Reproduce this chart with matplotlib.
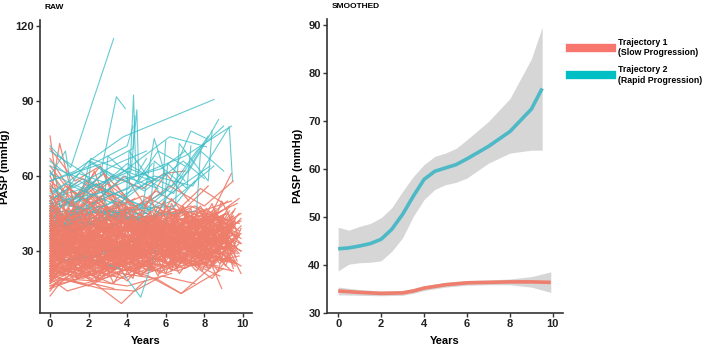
import matplotlib.pyplot as plt
from matplotlib.lines import Line2D

plt.rcParams['font.family'] = ['Liberation Sans', 'DejaVu Sans']
plt.rcParams['font.weight'] = 'bold'

RED = '#F8766D'
BLUE = '#00BFC4'

# RAW panel: trajectories for Trajectory 1 (slow), (years, PASP)
red_traj = [
    ([0, 1.1, 2.3, 3.6, 5.0, 6.4, 8.1, 9.6], [34, 29, 37, 31, 40, 33, 38, 30]),
    ([0, 0.9, 2.0, 4.2, 6.1, 7.9, 9.3], [26, 31, 24, 29, 35, 27, 33]),
    ([0, 1.5, 3.0, 4.8, 6.9, 8.8], [41, 36, 44, 38, 33, 42]),
    ([0, 0.7, 1.9, 3.3, 5.5, 7.2, 9.8], [22, 27, 20, 25, 30, 24, 28]),
    ([0, 1.2, 2.7, 4.1, 5.9, 8.0, 9.9], [38, 45, 33, 40, 36, 43, 35]),
    ([0, 0.5, 1.6, 3.8], [76, 48, 42, 37]),
    ([0.1, 0.5, 1.4, 2.9], [55, 73, 44, 39]),
    ([0, 1.0, 2.5, 4.0, 5.7], [30, 25, 33, 28, 36]),
    ([0, 2.1, 3.5, 5.2, 7.0, 8.6], [19, 24, 21, 27, 23, 30]),
    ([0, 0.8, 2.2, 3.1, 4.6, 6.6, 8.3, 9.5], [45, 39, 50, 42, 47, 38, 44, 40]),
    ([0, 1.3, 2.6, 4.4, 6.2, 7.7], [28, 34, 26, 31, 25, 32]),
    ([0, 0.6, 1.8, 3.4, 5.3, 7.4, 9.1], [36, 31, 39, 34, 29, 37, 45]),
    ([0, 1.9, 3.9, 5.8, 7.6, 9.7], [24, 20, 26, 22, 28, 25]),
    ([0, 1.1, 2.4, 3.7], [62, 50, 57, 46]),
    ([0, 1.4, 2.9, 4.7, 6.3, 8.2], [33, 38, 30, 35, 41, 34]),
    ([0, 0.4, 1.7, 3.2, 5.1, 6.8, 8.7], [17, 22, 19, 24, 20, 13, 26]),
    ([0, 1.6, 3.3, 5.4, 7.1, 9.0], [40, 34, 45, 37, 42, 36]),
    ([0, 0.9, 2.0, 3.0, 4.3], [27, 32, 23, 29, 25]),
    ([0, 1.2, 3.6, 5.6, 7.8, 9.4], [31, 26, 34, 29, 36, 61]),
    ([0, 0.7, 2.2, 4.0, 6.0, 7.5, 9.2], [48, 42, 53, 40, 46, 39, 50]),
    ([0, 1.8, 3.7, 4.9], [15, 20, 9, 18]),
    ([0, 1.0, 2.6, 4.5, 6.5, 8.4, 9.9], [35, 30, 38, 33, 27, 31, 24]),
    ([0, 0.5, 1.5, 2.8, 4.2, 5.9], [21, 26, 23, 28, 22, 27]),
    ([0, 1.3, 2.5, 3.9, 5.5, 7.3, 8.9], [43, 37, 48, 41, 35, 44, 15]),
    ([0, 2.0, 4.1, 6.2, 8.0, 9.6], [29, 35, 31, 38, 33, 40]),
    ([0, 0.8, 1.9, 3.2, 4.8, 6.7], [52, 46, 58, 44, 49, 41]),
    ([0, 1.5, 3.1, 4.6, 6.4, 8.5], [25, 21, 28, 24, 30, 26]),
    ([0, 1.1, 2.3, 3.5, 5.0, 6.6, 8.0, 9.8], [37, 42, 35, 39, 44, 37, 41, 51]),
    ([0, 0.6, 2.1, 3.8, 5.7], [12, 18, 22, 19, 25]),
    ([0, 1.7, 3.4, 5.3, 7.0, 8.8], [39, 33, 42, 36, 31, 38]),
    ([0, 0.9, 2.4, 3.6, 5.2, 6.9, 8.6, 9.5], [23, 28, 25, 31, 27, 33, 29, 34]),
    ([0, 1.2, 2.8, 4.4], [58, 51, 61, 48]),
    ([0, 1.4, 2.7, 4.3, 6.1, 7.9], [32, 27, 35, 30, 37, 31]),
    ([0, 0.5, 1.9, 3.3, 4.9, 6.8, 8.3], [44, 38, 47, 41, 36, 43, 38]),
    ([0, 2.2, 4.0, 5.8, 7.6, 9.3], [20, 25, 22, 28, 24, 31]),
    ([0, 1.0, 2.1, 3.4, 5.0], [67, 55, 49, 53, 45]),
    ([0, 1.3, 2.9, 4.5, 6.3, 8.1, 9.7], [30, 35, 28, 33, 39, 32, 37]),
    ([0, 0.7, 1.6, 3.0, 4.7, 6.5], [26, 22, 29, 24, 30, 27]),
    ([0, 1.8, 3.5, 5.4, 7.2, 9.1], [41, 46, 39, 43, 37, 45]),
    ([0, 0.6, 1.4, 2.5, 3.9, 5.6, 7.4, 9.0], [34, 29, 37, 32, 28, 35, 30, 36]),
    ([0, 1.1, 2.7, 4.2, 6.0, 7.7], [18, 23, 20, 26, 21, 27]),
    ([0, 0.8, 2.0, 3.1, 4.4], [49, 43, 55, 46, 51]),
    ([0, 1.5, 3.2, 4.9, 6.7, 8.4, 9.9], [28, 33, 30, 36, 31, 38, 33]),
    ([0, 0.4, 1.3, 2.6, 4.0, 5.5, 7.1], [38, 33, 41, 36, 43, 37, 32]),
    ([0, 2.0, 3.8, 5.7, 7.5, 9.4], [24, 29, 26, 32, 27, 33]),
    ([0, 0.9, 2.2, 3.6, 5.1, 6.8, 8.5], [45, 40, 36, 42, 38, 45, 40]),
    ([0, 1.2, 2.4, 3.7, 4.8], [16, 21, 18, 24, 20]),
    ([0, 1.6, 3.0, 4.6, 6.2, 8.0, 9.6], [35, 31, 38, 34, 40, 35, 42]),
    ([0, 0.7, 1.8, 3.3, 5.0, 6.9], [29, 34, 27, 32, 26, 31]),
    ([0, 1.4, 2.8, 4.3, 6.4, 8.2, 9.8], [42, 37, 45, 39, 47, 41, 36]),
    ([0, 1.0, 2.5, 3.9, 5.3], [22, 27, 19, 25, 29]),
    ([0, 0.5, 1.7, 3.5, 5.2, 7.0, 8.7], [31, 36, 33, 29, 35, 40, 34]),
    ([0, 1.3, 2.6, 3.4], [71, 58, 64, 52]),
    ([0, 1.9, 3.6, 5.6, 7.3, 9.2], [27, 32, 28, 34, 30, 26]),
    ([0, 0.8, 2.3, 4.1, 5.9, 7.8, 9.5], [37, 32, 40, 35, 42, 36, 44]),
    ([0, 1.1, 2.0, 3.2, 4.5, 6.1], [19, 24, 21, 17, 23, 28]),
    ([0, 1.7, 3.4, 5.1, 6.9, 8.6], [46, 41, 49, 43, 38, 47]),
    ([0, 0.6, 1.5, 2.9, 4.4, 6.3, 8.1, 9.9], [33, 28, 36, 31, 37, 33, 39, 30]),
    ([0, 1.2, 2.7, 4.0, 5.8], [25, 30, 23, 28, 33]),
    ([0, 0.9, 2.4, 3.8, 5.4, 7.2, 8.9], [40, 35, 43, 37, 32, 39, 46]),
    ([0, 1.5, 3.1, 4.7, 6.6, 8.3], [23, 19, 26, 21, 27, 23]),
    ([0, 0.7, 2.1, 3.6, 5.5, 7.5, 9.3], [50, 44, 39, 46, 41, 48, 42]),
    ([0, 1.0, 2.3, 3.0], [36, 41, 62, 47]),
    ([0, 1.3, 2.9, 4.6, 6.2, 7.9, 9.7], [30, 26, 33, 28, 35, 29, 25]),
    ([0, 0.5, 1.6, 2.8, 4.3, 5.9, 7.7], [35, 40, 34, 38, 44, 38, 43]),
    ([0, 1.8, 3.7, 5.4, 7.1, 8.8], [21, 26, 24, 30, 26, 20]),
    ([0, 1.1, 2.5, 4.1, 5.7, 7.4, 9.0], [43, 38, 46, 40, 36, 42, 37]),
    ([0, 0.8, 1.9, 3.3, 4.9], [28, 24, 31, 27, 34]),
    ([0, 1.4, 3.0, 4.8, 6.5, 8.4, 9.9], [38, 34, 41, 36, 43, 38, 45]),
    ([0, 0.6, 1.7, 3.2, 4.6, 6.4, 8.2], [26, 31, 28, 33, 29, 35, 31]),
    ([0, 2.1, 3.9, 5.8, 7.6, 9.4], [33, 37, 31, 39, 34, 41]),
    ([0, 0.9, 2.2, 3.5, 5.3, 7.0], [47, 42, 52, 45, 40, 47]),
    ([0, 1.2, 2.6, 4.2, 6.0, 7.8, 9.6], [20, 25, 22, 27, 24, 29, 26]),
    ([0, 0.4, 1.5, 2.7, 3.9], [60, 53, 47, 55, 49]),
    ([0, 1.6, 3.3, 5.0, 6.8, 8.6], [31, 27, 34, 30, 36, 32]),
    ([0, 1.0, 2.4, 3.7, 5.6, 7.3, 9.1], [36, 41, 33, 38, 43, 37, 33]),
    ([0, 0.7, 1.8, 3.1, 4.5, 6.2], [24, 20, 27, 23, 29, 25]),
    ([0, 1.3, 2.8, 4.4, 6.3, 8.0, 9.8], [41, 46, 38, 44, 39, 45, 41]),
    ([0, 0.5, 2.0, 3.6, 5.4], [14, 19, 16, 22, 25]),
    ([0, 1.7, 3.5, 5.2, 7.0, 8.7], [29, 34, 31, 37, 32, 38]),
    ([0, 0.8, 2.3, 3.8, 5.5, 7.2, 9.0], [39, 34, 42, 36, 31, 38, 34]),
    ([0, 1.1, 2.6, 4.0], [54, 48, 57, 43]),
    ([0, 1.5, 3.2, 5.1, 6.9, 8.5, 9.9], [26, 31, 28, 34, 29, 36, 30]),
    ([0, 0.6, 1.8, 3.4, 5.0, 6.7, 8.4], [33, 38, 35, 40, 36, 31, 37]),
    ([0, 1.9, 3.7, 5.6, 7.4, 9.2], [22, 27, 24, 30, 25, 32]),
    ([0, 0.9, 2.1, 3.3, 4.8, 6.5], [45, 50, 43, 48, 42, 46]),
    ([0, 1.2, 2.7, 4.3, 6.1, 7.9, 9.5], [30, 25, 32, 27, 33, 28, 35]),
    ([0, 0.5, 1.4, 2.9, 4.1], [37, 32, 40, 35, 31]),
    ([0, 1.4, 3.0, 4.7, 6.6, 8.3, 9.7], [43, 39, 47, 42, 38, 44, 49]),
    ([0, 1.0, 2.2, 3.6, 5.3, 7.1], [18, 23, 20, 26, 22, 28]),
    ([0, 0.7, 2.0, 3.8, 5.7, 7.6, 9.4], [35, 30, 37, 33, 39, 34, 40]),
    ([0, 1.6, 3.4, 5.2, 7.0, 8.9], [27, 32, 29, 35, 31, 37]),
    ([0, 0.8, 1.7, 3.0, 4.6], [64, 56, 50, 57, 47]),
    ([0, 1.1, 2.5, 4.0, 5.9, 7.7, 9.3], [32, 37, 30, 34, 40, 35, 31]),
    ([0, 0.6, 1.9, 3.5, 5.1, 6.9, 8.7], [24, 29, 26, 31, 27, 34, 29]),
    ([0, 1.8, 3.6, 5.5, 7.3, 9.0], [40, 45, 38, 43, 48, 42]),
    ([0, 0.9, 2.3, 3.7, 5.4], [29, 25, 32, 28, 23]),
    ([0, 1.3, 2.8, 4.5, 6.4, 8.1, 9.9], [36, 31, 39, 34, 29, 36, 42]),
    ([0, 0.5, 1.6, 3.1, 4.8, 6.6, 8.4], [21, 17, 24, 20, 26, 22, 28]),
    ([0, 2.0, 3.9, 5.7, 7.5, 9.6], [44, 39, 47, 41, 46, 39]),
    ([0, 1.0, 2.4, 3.9, 5.6, 7.4, 9.1], [33, 28, 36, 31, 38, 33, 29]),
    ([0, 0.7, 1.7, 2.9, 4.4, 6.0], [26, 31, 28, 34, 30, 36]),
    ([0, 1.5, 3.1, 4.9, 6.8, 8.6], [38, 34, 41, 37, 43, 38]),
    ([0, 0.8, 2.1, 3.4, 5.2, 7.0, 8.8], [48, 43, 51, 45, 40, 46, 41]),
    ([0, 1.2, 2.6, 4.1, 5.8, 7.7, 9.5], [23, 27, 21, 26, 31, 25, 22]),
    ([0, 0.6, 1.4, 2.5, 3.8], [41, 36, 44, 39, 35]),
    ([0, 1.7, 3.5, 5.3, 7.1, 8.9], [30, 35, 32, 38, 33, 27]),
    ([0, 0.9, 2.3, 3.9, 5.5, 7.3, 9.2], [35, 40, 34, 38, 44, 39, 45]),
    ([0, 1.1, 2.2, 3.6, 5.0, 6.7], [17, 22, 19, 25, 21, 26]),
    ([0, 1.4, 2.9, 4.6, 6.5, 8.2, 9.8], [42, 38, 45, 40, 35, 42, 37]),
    ([0, 0.5, 1.8, 3.2, 4.7, 6.3, 8.0], [28, 33, 30, 26, 32, 37, 32]),
    ([0, 1.9, 3.8, 5.6, 7.4, 9.3], [34, 29, 36, 31, 37, 33]),
    ([0, 0.8, 1.9, 3.1], [57, 49, 54, 44]),
    ([0, 1.3, 2.7, 4.3, 6.2, 8.0, 9.7], [25, 30, 27, 32, 28, 34, 29]),
    ([0, 0.7, 2.0, 3.5, 5.3, 7.1, 8.9], [39, 35, 42, 37, 33, 40, 44]),
    ([0, 1.6, 3.3, 5.0, 6.8, 8.5], [20, 25, 23, 28, 24, 30]),
    ([0, 1.0, 2.5, 3.9, 5.7, 7.5, 9.4], [46, 41, 48, 43, 38, 45, 50]),
    ([0, 0.4, 1.5, 3.0, 4.5], [31, 36, 33, 29, 35]),
    ([0, 1.2, 2.8, 4.4, 6.0, 7.8, 9.6], [37, 32, 40, 35, 41, 36, 32]),
    ([0, 0.9, 2.1, 3.4, 5.1, 6.9, 8.7], [27, 22, 30, 25, 31, 27, 24]),
    ([0, 1.5, 3.2, 4.8, 5.9, 7.0], [52, 47, 60, 55, 61, 62]),
    ([0, 0.9, 2.2, 3.3], [19, 14, 17, 15]),
    ([0, 1.1, 2.6, 4.4, 5.8, 7.5], [16, 18, 15, 14, 20, 17]),
    ([0, 1.8, 3.7, 5.5, 6.8, 8.1, 9.0], [20, 17, 21, 19, 13, 19, 23]),
    ([0, 0.6, 2.3, 4.0, 6.3], [15, 19, 18, 16, 21]),
    ([0, 1.4, 2.6, 3.5, 5.0], [44, 52, 64, 48, 41]),
    ([0, 2.0, 3.4, 4.6, 6.0, 7.2], [38, 47, 57, 44, 61, 50]),
    ([0, 1.0, 2.2, 3.9, 5.2], [46, 55, 49, 60, 45]),
    ([0, 3.0, 4.5, 6.2, 8.0, 9.5], [40, 51, 46, 56, 48, 58]),
    ([0, 1.7, 3.0, 4.1], [50, 59, 53, 47]),
    ([0, 4.0, 5.5, 7.0, 8.2], [35, 45, 54, 47, 56]),
    ([0, 0.8, 2.7, 4.8, 6.6], [47, 56, 45, 52, 46]),
    ([0, 5.0, 6.3, 7.8, 9.0], [33, 50, 44, 55, 49]),
]

# patients with many visits (drawn after Trajectory 2)
red_traj_dense = [
    ([0, 0.5, 1.2, 2.1, 2.8, 3.7, 4.5, 5.4, 6.3, 7.1, 8.0, 8.9, 9.7], [31, 47, 25, 38, 20, 44, 29, 35, 22, 46, 30, 41, 26]),
    ([0, 0.8, 1.5, 2.4, 3.3, 4.0, 4.9, 5.8, 6.6, 7.5, 8.4, 9.3], [43, 24, 37, 18, 33, 48, 27, 40, 23, 36, 49, 28]),
    ([0, 0.4, 1.1, 1.9, 2.7, 3.5, 4.4, 5.2, 6.1, 7.0, 7.8, 8.7, 9.6], [22, 36, 50, 29, 41, 24, 37, 52, 31, 25, 43, 34, 47]),
    ([0, 0.7, 1.6, 2.3, 3.1, 4.1, 5.0, 5.9, 6.8, 7.7, 8.6, 9.5], [39, 27, 46, 33, 21, 35, 44, 26, 38, 29, 45, 23]),
    ([0, 0.9, 1.7, 2.6, 3.4, 4.3, 5.1, 6.0, 6.9, 7.8, 8.8, 9.8], [18, 32, 24, 45, 28, 19, 41, 33, 48, 27, 36, 42]),
    ([0, 0.3, 1.0, 1.8, 2.5, 3.2, 4.0, 4.8, 5.7, 6.5, 7.4, 8.3, 9.2], [48, 35, 56, 30, 43, 26, 51, 34, 39, 24, 43, 32, 38]),
    ([0, 0.6, 1.4, 2.2, 3.0, 3.9, 4.7, 5.6, 6.4, 7.3, 8.1, 9.0, 9.9], [26, 40, 19, 30, 45, 23, 33, 20, 37, 47, 25, 35, 21]),
    ([0, 0.8, 1.7, 2.5, 3.6, 4.4, 5.3, 6.2, 7.0, 7.9, 8.7, 9.6], [35, 22, 41, 27, 50, 38, 29, 45, 31, 22, 40, 33]),
    ([0, 0.5, 1.3, 2.0, 2.9, 3.8, 4.6, 5.5, 6.3, 7.2, 8.1, 9.0], [41, 53, 33, 47, 36, 28, 42, 31, 49, 37, 27, 44]),
    ([0, 0.7, 1.5, 2.4, 3.2, 4.1, 4.9, 5.8, 6.7, 7.6, 8.5, 9.4], [20, 29, 37, 21, 33, 42, 25, 36, 28, 43, 30, 38]),
    ([0, 0.4, 1.2, 2.1, 2.9, 3.7, 4.6, 5.4, 6.3, 7.1, 8.0, 8.9, 9.8], [37, 30, 44, 25, 39, 34, 22, 43, 29, 37, 46, 26, 33]),
    ([0, 0.9, 1.8, 2.6, 3.5, 4.3, 5.2, 6.1, 6.9, 7.8, 8.7, 9.5], [24, 42, 31, 48, 27, 36, 46, 24, 39, 32, 22, 41]),
    ([0, 0.6, 1.4, 2.3, 3.1, 4.0, 4.8, 5.7, 6.6, 7.4, 8.3, 9.2], [52, 38, 29, 43, 35, 47, 30, 39, 26, 44, 35, 29]),
    ([0, 0.5, 1.1, 1.9, 2.8, 3.6, 4.5, 5.3, 6.2, 7.0, 7.9, 8.8, 9.7], [29, 21, 35, 40, 24, 31, 48, 36, 23, 34, 41, 28, 37]),
    ([0, 0.8, 1.6, 2.5, 3.3, 4.2, 5.1, 5.9, 6.8, 7.7, 8.6, 9.5], [33, 46, 39, 26, 41, 29, 37, 50, 34, 25, 38, 46]),
    ([0, 0.3, 1.0, 1.7, 2.6, 3.4, 4.2, 5.1, 6.0, 6.8, 7.7, 8.5, 9.4], [45, 27, 38, 23, 34, 45, 32, 26, 41, 35, 27, 45, 30]),
    ([0, 0.7, 1.5, 2.2, 3.0, 3.9, 4.7, 5.6, 6.5, 7.3, 8.2, 9.1, 9.9], [23, 31, 26, 42, 30, 20, 35, 28, 45, 29, 36, 24, 39]),
    ([0, 0.9, 1.8, 2.7, 3.5, 4.4, 5.3, 6.2, 7.1, 8.0, 8.9, 9.7], [38, 31, 47, 35, 24, 40, 46, 32, 38, 30, 43, 35]),
    ([0, 0.5, 1.3, 2.2, 3.0, 3.8, 4.7, 5.5, 6.4, 7.2, 8.1, 9.0, 9.8], [27, 43, 34, 20, 38, 46, 27, 35, 42, 31, 24, 37, 45]),
    ([0, 0.6, 1.4, 2.3, 3.2, 4.0, 4.9, 5.8, 6.7, 7.5, 8.4, 9.3], [56, 41, 49, 36, 44, 32, 39, 46, 30, 41, 36, 48]),
    ([0, 0.4, 1.1, 1.9, 2.7, 3.6, 4.4, 5.3, 6.1, 7.0, 7.9, 8.8, 9.6], [21, 34, 27, 36, 23, 30, 39, 22, 32, 27, 39, 30, 24]),
    ([0, 0.8, 1.7, 2.5, 3.4, 4.3, 5.1, 6.0, 6.9, 7.7, 8.6, 9.5], [42, 35, 28, 46, 37, 25, 44, 38, 29, 47, 33, 40]),
    ([0, 0.5, 1.2, 2.0, 2.9, 3.7, 4.6, 5.4, 6.3, 7.1, 8.0, 8.9, 9.8], [34, 25, 42, 31, 48, 27, 34, 45, 25, 38, 31, 50, 36]),
    ([0, 0.7, 1.6, 2.4, 3.3, 4.1, 5.0, 5.9, 6.7, 7.6, 8.5, 9.4], [19, 27, 22, 32, 17, 28, 24, 33, 21, 30, 25, 34]),
    ([0, 0.3, 1.0, 1.8, 2.6, 3.5, 4.3, 5.2, 6.0, 6.9, 7.8, 8.7, 9.6], [39, 47, 32, 41, 52, 35, 43, 30, 48, 39, 32, 42, 28]),
    ([0, 0.9, 1.7, 2.6, 3.4, 4.2, 5.1, 6.0, 6.8, 7.7, 8.6, 9.4], [30, 38, 21, 35, 29, 43, 33, 21, 38, 28, 46, 31]),
    ([0, 0.6, 1.4, 2.1, 3.0, 3.8, 4.7, 5.6, 6.4, 7.3, 8.2, 9.1, 9.9], [46, 32, 39, 29, 36, 25, 38, 44, 33, 41, 30, 37, 43]),
    ([0, 0.4, 1.2, 2.0, 2.8, 3.7, 4.5, 5.4, 6.2, 7.1, 8.0, 8.8, 9.7], [25, 33, 41, 26, 32, 39, 21, 30, 37, 24, 34, 28, 36]),
    ([0, 0.8, 1.6, 2.5, 3.3, 4.2, 5.0, 5.9, 6.8, 7.6, 8.5, 9.3], [36, 28, 33, 24, 44, 30, 37, 27, 35, 45, 26, 39]),
    ([0, 0.5, 1.3, 2.2, 3.0, 3.9, 4.8, 5.6, 6.5, 7.4, 8.2, 9.1, 9.9], [50, 41, 34, 45, 28, 40, 34, 48, 37, 29, 42, 34, 40]),
    ([0, 0.7, 1.5, 2.3, 3.2, 4.0, 4.9, 5.7, 6.6, 7.5, 8.4, 9.2], [17, 24, 19, 28, 23, 18, 26, 21, 29, 24, 19, 27]),
    ([0, 0.4, 1.1, 1.9, 2.8, 3.6, 4.5, 5.3, 6.2, 7.0, 7.9, 8.8, 9.6], [32, 39, 26, 34, 40, 31, 28, 41, 35, 28, 36, 31, 43]),
    ([0, 0.9, 1.8, 2.7, 3.5, 4.4, 5.3, 6.1, 7.0, 7.9, 8.8, 9.7], [40, 32, 44, 38, 29, 37, 42, 30, 44, 36, 41, 31]),
    ([0, 0.6, 1.4, 2.2, 3.1, 3.9, 4.8, 5.7, 6.5, 7.4, 8.3, 9.2], [28, 36, 30, 23, 34, 27, 39, 32, 25, 33, 40, 28]),
    ([0, 0.3, 1.0, 1.8, 2.6, 3.4, 4.3, 5.1, 6.0, 6.8, 7.7, 8.6, 9.5], [44, 38, 47, 34, 40, 49, 36, 42, 33, 47, 38, 29, 42]),
    ([0, 0.7, 1.5, 2.4, 3.2, 4.1, 5.0, 5.8, 6.7, 7.6, 8.4, 9.3], [23, 29, 35, 27, 21, 33, 28, 37, 29, 22, 32, 27]),
    ([0, 0.5, 1.3, 2.1, 3.0, 3.8, 4.6, 5.5, 6.3, 7.2, 8.1, 9.0, 9.8], [35, 42, 29, 37, 31, 42, 33, 27, 39, 31, 45, 36, 29]),
    ([0, 0.8, 1.7, 2.5, 3.4, 4.2, 5.1, 6.0, 6.9, 7.8, 8.7, 9.6], [26, 20, 31, 24, 30, 36, 24, 32, 38, 26, 34, 25]),
    ([0, 0.4, 1.2, 2.0, 2.9, 3.7, 4.6, 5.5, 6.3, 7.2, 8.0, 8.9, 9.8], [47, 36, 43, 50, 39, 45, 35, 40, 51, 42, 34, 44, 38]),
    ([0, 0.6, 1.4, 2.3, 3.1, 4.0, 4.8, 5.7, 6.6, 7.4, 8.3, 9.2], [31, 26, 37, 32, 40, 27, 36, 30, 42, 34, 27, 36]),
    ([0, 0.9, 1.6, 2.4, 3.3, 4.1, 5.0, 5.9, 6.8, 7.6, 8.5, 9.4], [21, 30, 25, 19, 27, 31, 22, 29, 25, 34, 29, 22]),
    ([0, 0.5, 1.1, 1.9, 2.7, 3.5, 4.4, 5.2, 6.1, 7.0, 7.8, 8.7, 9.5], [38, 44, 33, 40, 27, 36, 43, 37, 28, 39, 46, 33, 39]),
    ([0, 0.7, 1.5, 2.2, 3.1, 3.9, 4.8, 5.6, 6.5, 7.3, 8.2, 9.1, 9.9], [29, 35, 22, 30, 36, 24, 31, 39, 29, 35, 23, 31, 37]),
    ([0, 0.3, 1.0, 1.8, 2.6, 3.5, 4.3, 5.2, 6.0, 6.9, 7.8, 8.6, 9.5], [41, 33, 38, 45, 30, 42, 35, 44, 33, 41, 48, 37, 44]),
    ([0, 0.8, 1.7, 2.5, 3.4, 4.3, 5.1, 6.0, 6.8, 7.7, 8.6, 9.4], [24, 32, 27, 35, 25, 33, 40, 26, 34, 28, 38, 30]),
    ([0, 0.6, 1.3, 2.1, 2.9, 3.8, 4.6, 5.5, 6.4, 7.2, 8.1, 9.0, 9.9], [55, 44, 37, 49, 42, 34, 45, 36, 41, 32, 47, 40, 33]),
    ([0, 0.4, 1.2, 2.0, 2.8, 3.6, 4.5, 5.3, 6.2, 7.1, 7.9, 8.8, 9.6], [33, 27, 31, 24, 35, 29, 26, 33, 28, 37, 33, 25, 30]),
    ([0, 0.9, 1.8, 2.6, 3.5, 4.3, 5.2, 6.1, 6.9, 7.8, 8.7, 9.5], [37, 45, 35, 41, 48, 36, 44, 39, 47, 40, 35, 43]),
    ([0, 0.5, 1.3, 2.2, 3.0, 3.9, 4.7, 5.6, 6.5, 7.3, 8.2, 9.1], [20, 25, 18, 27, 22, 26, 20, 27, 23, 29, 24, 29]),
    ([0, 0.7, 1.6, 2.4, 3.3, 4.1, 5.0, 5.8, 6.7, 7.6, 8.5, 9.3], [46, 38, 43, 35, 39, 31, 42, 35, 30, 41, 36, 46]),
]

# RAW panel: trajectories for Trajectory 2 (rapid)
blue_traj = [
    ([0, 1.07, 3.3], [72, 63.4, 115]),
    ([0, 1.2, 2.6, 3.44, 3.9], [55, 48, 60, 91.7, 87]),
    ([0, 1.5, 3.0, 4.1, 4.33, 4.45, 5.0], [50, 58, 52, 55, 92.4, 60, 67]),
    ([0, 1.3, 3.8, 8.5], [58, 62, 75.7, 90.6]),
    ([0, 2.0, 4.2, 4.5, 4.6, 5.3], [47, 55, 62, 86.5, 58, 65]),
    ([0, 1.5, 3.0, 6.2, 8.1], [52, 61, 57, 75.7, 71.7]),
    ([0, 2.2, 5.4, 7.4, 9.29, 9.46], [43, 49, 60, 56, 79.7, 58.3]),
    ([0, 3.0, 5.0, 7.2, 8.74], [49, 54, 47, 62, 82.6]),
    ([0, 0.8, 1.1, 3.5, 5.0], [60, 70, 55, 65, 70]),
    ([0, 1.8, 4.0, 6.0, 7.3, 8.1], [40, 47, 45, 54, 78, 75]),
    ([0, 2.5, 4.8, 5.4, 6.0], [64, 56, 48, 75, 60]),
    ([0, 1.0, 2.0, 4.0, 4.3], [66, 60, 64, 72, 80]),
    ([0, 2.0, 3.6, 4.7, 6.1, 7.5], [35, 27, 23, 11.5, 45, 58]),
    ([0, 0.5, 2.4, 4.6, 6.0], [33, 26, 28, 35, 50]),
    ([0, 1.2, 3.3, 5.2, 6.8, 8.2], [42, 38, 45, 41, 60, 76]),
    ([0, 2.6, 4.1, 6.3, 7.6, 9.0], [51, 57, 63, 56, 70, 80]),
    ([0, 0.7, 2.0, 3.5, 5.8, 7.0], [62, 53, 66, 58, 63, 70]),
    ([0, 1.6, 2.5, 4.0, 5.5], [70, 62, 55, 65, 58]),
    ([0, 0.3, 1.9, 3.8, 5.6], [48, 52, 46, 60, 55]),
    ([0, 1.1, 2.9, 4.9, 6.9, 8.0], [56, 50, 62, 54, 66, 59]),
    ([0, 1.0, 3.7, 6.0], [44, 40, 52, 61]),
    ([0, 2.3, 4.4, 6.6, 8.3], [39, 46, 42, 55, 64]),
    ([0, 0.8, 3.6, 5.6, 7.0], [53, 57, 48, 70, 64]),
    ([0, 1.4, 2.7, 5.1, 6.4, 8.0], [46, 51, 44, 58, 53, 73]),
    ([0, 3.1, 4.3, 4.4], [58, 66, 71, 84]),
    ([0, 1.7, 2.1, 3.9, 5.3], [61, 55, 67, 62, 58]),
    ([0, 0.6, 2.2, 4.5, 7.0, 9.4], [41, 48, 52, 60, 68, 80]),
    ([0, 1.3, 3.0, 4.2, 6.3, 8.5], [36, 42, 39, 44, 50, 64]),
    ([0, 2.8, 3.0, 4.9], [45, 48, 68, 55]),
    ([0, 3.9, 4.1, 5.8, 6.0], [42, 44, 70, 52, 74]),
    ([0, 5.2, 5.4, 7.1, 7.3], [46, 45, 66, 55, 72]),
    ([0, 6.5, 6.7, 8.2, 8.4], [44, 48, 73, 58, 78]),
    ([0, 1.9, 2.1, 3.3], [49, 47, 66, 60]),
    ([0, 7.6, 7.8, 9.0], [40, 46, 70, 62]),
    ([0, 3.4, 5.9, 6.1, 7.0], [38, 50, 45, 65, 58]),
]

# SMOOTHED panel
blue_years = [0, 0.5, 1, 1.5, 2, 2.5, 3, 3.5, 4, 4.5, 5, 5.5, 6, 7, 8, 9, 9.5]
blue_fit = [43.3, 43.5, 43.9, 44.4, 45.3, 47.4, 50.5, 54.3, 57.8, 59.5, 60.2, 60.9, 62.1, 64.7, 67.8, 72.5, 76.8]
blue_hi = [47.8, 47.2, 48.0, 48.6, 49.8, 51.9, 55.3, 58.4, 60.9, 62.6, 63.3, 64.3, 66.1, 69.9, 74.7, 83.0, 89.6]
blue_lo = [38.7, 40.1, 40.4, 40.5, 40.8, 42.8, 45.6, 50.1, 53.6, 55.7, 56.7, 57.2, 58.1, 61.2, 63.3, 63.9, 63.9]

red_years = [0, 1, 2, 3, 3.5, 4, 5, 6, 7, 8, 9, 9.9]
red_fit = [34.5, 34.2, 34.0, 34.1, 34.5, 35.1, 35.8, 36.2, 36.3, 36.4, 36.4, 36.3]
red_hi = [35.3, 34.8, 34.5, 34.6, 35.0, 35.6, 36.3, 36.7, 36.8, 37.0, 37.5, 38.5]
red_lo = [33.7, 33.6, 33.5, 33.6, 34.0, 34.6, 35.3, 35.7, 35.8, 35.8, 35.3, 34.2]

legend_labels = ['Trajectory 1\n(Slow Progression)', 'Trajectory 2\n(Rapid Progression)']


def style_axes(ax):
    for side in ['top', 'right']:
        ax.spines[side].set_visible(False)
    for side in ['left', 'bottom']:
        ax.spines[side].set_linewidth(1.2)
        ax.spines[side].set_color('#333333')
    ax.tick_params(length=3, width=1.0, color='#333333', labelsize=8, pad=1.5, labelcolor='#222222')
    ax.set_xticks([0, 2, 4, 6, 8, 10])
    ax.set_xlim(-0.52, 10.47)
    ax.set_xlabel('Years', fontsize=8, fontweight='bold', labelpad=5)
    ax.set_ylabel('PASP (mmHg)', fontsize=8, fontweight='bold', labelpad=4)


fig = plt.figure(figsize=(7.09, 3.49), dpi=100)
ax1 = fig.add_axes([40 / 709, 36 / 349, 212 / 709, 293 / 349])
ax2 = fig.add_axes([327 / 709, 36 / 349, 236 / 709, 294 / 349])

# some slow-group lines under the rapid group, the rest on top
for t, v in red_traj:
    ax1.plot(t, v, color='#EE7D6B', lw=0.9, alpha=0.9)
for t, v in blue_traj:
    ax1.plot(t, v, color='#3FBEC8', lw=0.8, alpha=0.8)
for t, v in red_traj_dense:
    ax1.plot(t, v, color='#EE7D6B', lw=0.9, alpha=0.9)
ax1.set_ylim(5.2, 122.4)
ax1.set_yticks([30, 60, 90, 120])
style_axes(ax1)
ax1.set_title('RAW', loc='left', fontsize=6, fontweight='bold', x=0.02, pad=8)

ax2.fill_between(blue_years, blue_lo, blue_hi, color='#D6D6D6', lw=0)
ax2.fill_between(red_years, red_lo, red_hi, color='#D6D6D6', lw=0)
ax2.plot(blue_years, blue_fit, color='#4DB9C6', lw=2.6, solid_capstyle='butt')
ax2.plot(red_years, red_fit, color='#EE7F6E', lw=2.6, solid_capstyle='butt')
ax2.set_ylim(29.9, 91.3)
ax2.set_yticks([30, 40, 50, 60, 70, 80, 90])
style_axes(ax2)
ax2.set_title('SMOOTHED', loc='left', fontsize=6, fontweight='bold', x=0.02, pad=8)

handles = [Line2D([], [], color=RED, lw=6), Line2D([], [], color=BLUE, lw=6)]
fig.legend(handles, legend_labels, loc='upper left', bbox_to_anchor=(562 / 709, 1 - 30 / 349),
           frameon=False, handlelength=4.8, handletextpad=0.7, labelspacing=0.9,
           prop={'size': 6.3, 'weight': 'bold'})

fig.savefig('out.png', dpi=100)
